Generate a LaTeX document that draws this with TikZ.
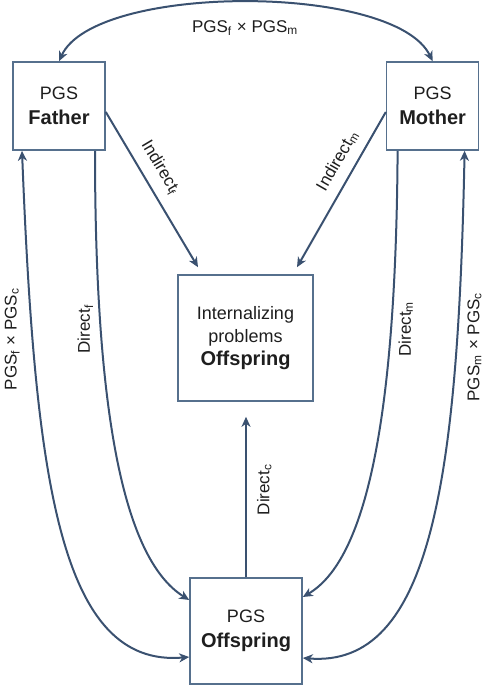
\documentclass[tikz,border=0pt]{standalone}
\usepackage{fontspec}
\setmainfont{Liberation Sans}
\usetikzlibrary{arrows.meta, positioning}
\definecolor{linkcol}{HTML}{3A5170}
\definecolor{boxcol}{HTML}{56708D}
\definecolor{txtcol}{HTML}{1E1E1E}
\newcommand{\heavy}[1]{{\fontsize{10}{12.5}\selectfont\bfseries #1}}
\tikzset{
	pgs/.style={
		rectangle, 
		minimum width=46pt, 
		minimum height=44pt, 
		align=center, 
		draw=boxcol, 
		line width=0.8pt,
		text=txtcol,
		font=\fontsize{9}{12.5}\selectfont
	},
	outcome/.style={
		pgs,
		minimum width=67.5pt, 
		minimum height=63pt,
		font=\fontsize{9}{11.5}\selectfont
	},
	arrow/.style={line width=1pt, draw=linkcol, -{Stealth[length=5pt, width=4.5pt, inset=1.5pt]}},
	twoway/.style={arrow, {Stealth[length=5pt, width=4.5pt, inset=1.5pt]}-{Stealth[length=5pt, width=4.5pt, inset=1.5pt]}},
	lbl/.style={font=\fontsize{8.5}{10}\selectfont, text=txtcol}
}

\begin{document}
\begin{tikzpicture}[x=0.5pt, y=-0.5pt]
	\useasboundingbox (0,0) rectangle (488,685);
	\node (father) [pgs] at (59,106) {PGS\\\heavy{Father}};
	\node (mother) [pgs, right=140pt of father] {PGS\\\heavy{Mother}};
	\node (problems) [outcome] at (245.5,338) {Internalizing\\problems\\\heavy{Offspring}};
	\node (child) [pgs, minimum width=56pt, minimum height=53pt] at (246,631) {PGS\\\heavy{Offspring}};
	
	% parents
	\draw [twoway] (father.north) .. controls (95,-17) and (395,-17) .. (mother.north)
		node [lbl, midway, below=5pt] {PGS\textsubscript{f} × PGS\textsubscript{m}};
	
	% indirect paths
	\draw [arrow] ([yshift=-3pt]father.east) -- ([xshift=-23.75pt, yshift=3.5pt]problems.north)
		node [lbl, pos=0.42, sloped, above=1.5pt] {Indirect\textsubscript{f}};
	\draw [arrow] ([yshift=-3pt]mother.west) -- ([xshift=25.75pt, yshift=3.5pt]problems.north)
		node [lbl, pos=0.37, sloped, above=1.5pt] {Indirect\textsubscript{m}};
	
	% direct paths
	\draw [arrow] ([xshift=18pt]father.south) .. controls (95,420) and (125,560) .. ([yshift=15.5pt]child.west)
		node [lbl, pos=0.25, rotate=90, anchor=south] {Direct\textsubscript{f}};
	\draw [arrow] ([xshift=-17.5pt]mother.south) .. controls (396,420) and (366,560) .. ([yshift=17pt]child.east)
		node [lbl, pos=0.25, rotate=90, anchor=north] {Direct\textsubscript{m}};
	\draw [arrow, shorten >=7.5pt] (child.north) -- (child.north |- problems.south)
		node [lbl, midway, rotate=90, anchor=north, inner sep=5pt] {Direct\textsubscript{c}};
	
	% parent x child
	\draw [twoway] ([yshift=-13pt]child.west) .. controls (60,668) and (35,480) .. ([xshift=-18.5pt]father.south)
		node [lbl, pos=0.79, rotate=90, anchor=south, inner sep=6pt] {PGS\textsubscript{f} × PGS\textsubscript{c}};
	\draw [twoway] ([yshift=-13.5pt]child.east) .. controls (431,668) and (458,480) .. ([xshift=16pt]mother.south)
		node [lbl, pos=0.78, rotate=90, anchor=north, inner sep=5pt] {PGS\textsubscript{m} × PGS\textsubscript{c}};
\end{tikzpicture}
\end{document}
